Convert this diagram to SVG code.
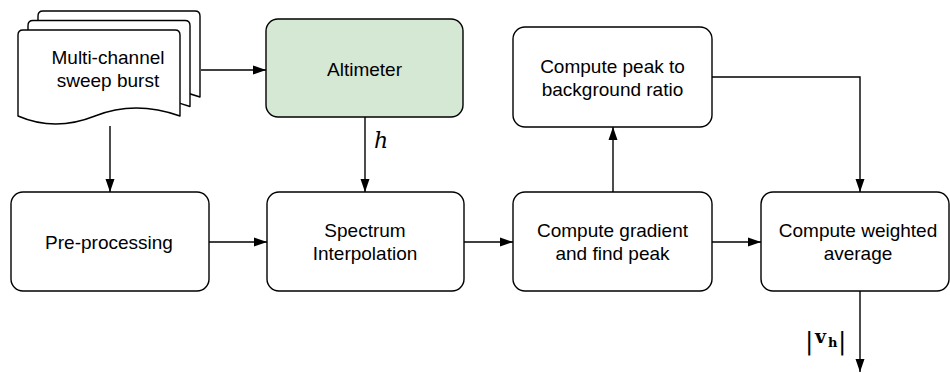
<svg xmlns="http://www.w3.org/2000/svg" width="950" height="373" viewBox="0 0 950 373">
  <style>
    .box { fill: #ffffff; stroke: #000000; stroke-width: 1.4; }
    .alt { fill: #d5e8d4; stroke: #000000; stroke-width: 1.4; }
    .doc { fill: #ffffff; stroke: #000000; stroke-width: 1.4; stroke-linejoin: round; }
    .lbl { font-family: "Liberation Sans", Arial, sans-serif; font-size: 19px; fill: #000000; text-anchor: middle; }
    .math { font-family: "DejaVu Serif", "Liberation Serif", serif; fill: #000000; }
    .edge { fill: none; stroke: #000000; stroke-width: 1.4; }
  </style>
  <defs>
    <marker id="arrow" viewBox="0 0 13 10" refX="13" refY="5" markerWidth="13" markerHeight="10" markerUnits="userSpaceOnUse" orient="auto">
      <path d="M0,0.5 L13,5 L0,9.5 Z" fill="#000000"/>
    </marker>
    <!-- single sheet of the stacked document shape, origin at front sheet -->
    <path id="sheet" d="M18,116 L18,35 Q18,30 23,30 L175,30 Q180,30 180,35 L180,116 Q135,100 95,116 Q55,132 18,116 Z"/>
  </defs>

  <g id="sweep-burst">
    <use href="#sheet" class="doc" transform="translate(20,-19)"/>
    <use href="#sheet" class="doc" transform="translate(10,-9.5)"/>
    <use href="#sheet" class="doc"/>
    <text class="lbl" x="108" y="64">Multi-channel</text>
    <text class="lbl" x="108" y="87">sweep burst</text>
  </g>

  <g id="altimeter">
    <rect class="alt" x="266" y="19" width="197" height="98" rx="12"/>
    <text class="lbl" x="364.5" y="76">Altimeter</text>
  </g>

  <g id="peak-ratio">
    <rect class="box" x="513" y="27" width="199" height="100" rx="12"/>
    <text class="lbl" x="612.5" y="73">Compute peak to</text>
    <text class="lbl" x="612.5" y="96">background ratio</text>
  </g>

  <g id="pre-processing">
    <rect class="box" x="11" y="192" width="198" height="99" rx="12"/>
    <text class="lbl" x="109" y="249">Pre-processing</text>
  </g>

  <g id="spectrum-interpolation">
    <rect class="box" x="267" y="192" width="197" height="99" rx="12"/>
    <text class="lbl" x="365" y="237">Spectrum</text>
    <text class="lbl" x="365" y="260">Interpolation</text>
  </g>

  <g id="gradient-peak">
    <rect class="box" x="513" y="192" width="199" height="99" rx="12"/>
    <text class="lbl" x="612.5" y="237">Compute gradient</text>
    <text class="lbl" x="612.5" y="260">and find peak</text>
  </g>

  <g id="weighted-average">
    <rect class="box" x="761" y="192" width="188" height="99" rx="12"/>
    <text class="lbl" x="858" y="237">Compute weighted</text>
    <text class="lbl" x="858" y="260">average</text>
  </g>

  <g id="connectors">
    <path class="edge" d="M201,70 L266,70" marker-end="url(#arrow)"/>
    <path class="edge" d="M110,126 L110,192" marker-end="url(#arrow)"/>
    <path class="edge" d="M365,117 L365,192" marker-end="url(#arrow)"/>
    <path class="edge" d="M209,242 L267,242" marker-end="url(#arrow)"/>
    <path class="edge" d="M464,242 L513,242" marker-end="url(#arrow)"/>
    <path class="edge" d="M712,242 L761,242" marker-end="url(#arrow)"/>
    <path class="edge" d="M613,192 L613,127" marker-end="url(#arrow)"/>
    <path class="edge" d="M712,77 L860,77 L860,192" marker-end="url(#arrow)"/>
    <path class="edge" d="M860,291 L860,372" marker-end="url(#arrow)"/>
    <!-- edge labels: altitude h and horizontal speed |v_h| -->
    <text class="math" x="374" y="148" font-size="22" font-style="italic" font-family="Liberation Serif, serif">h</text>
    <text class="math" y="346"><tspan x="805" y="349" font-size="25" font-weight="normal">|</tspan><tspan x="815" y="343" font-size="19" font-weight="bold">v</tspan><tspan x="828" y="347" font-size="13" font-weight="bold">h</tspan><tspan x="838" y="349" font-size="25" font-weight="normal">|</tspan></text>
  </g>
</svg>
